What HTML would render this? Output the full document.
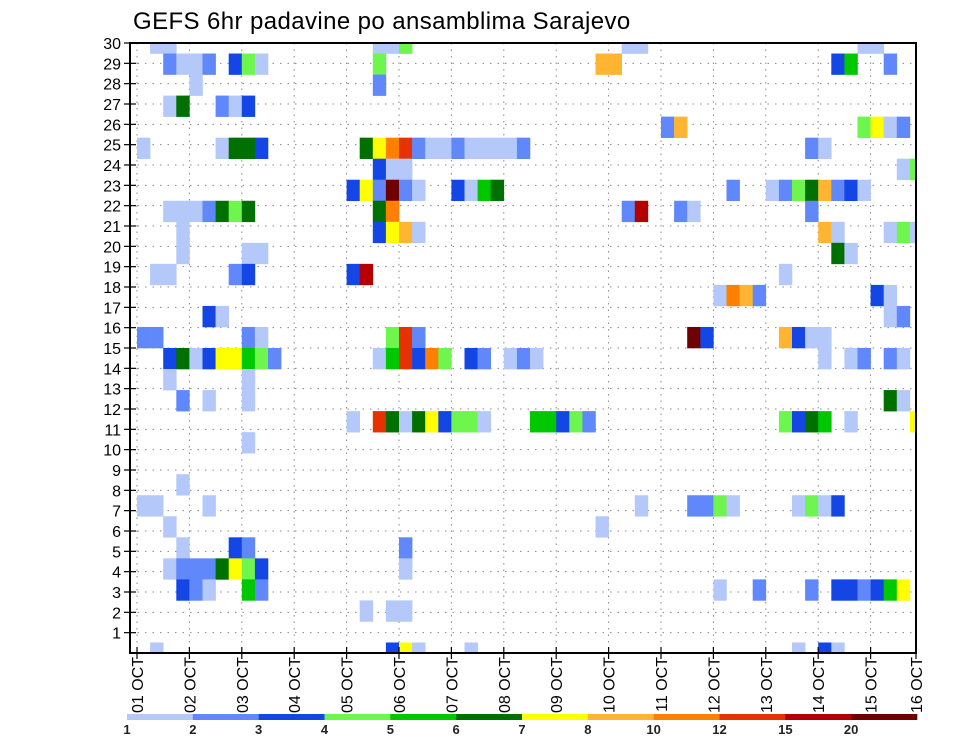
<!DOCTYPE html>
<html><head><meta charset="utf-8">
<style>
html,body{margin:0;padding:0;background:#fff;}
svg{display:block;font-family:"Liberation Sans",sans-serif;}
</style></head>
<body>
<svg id="chart" width="960" height="742" viewBox="0 0 960 742" xmlns="http://www.w3.org/2000/svg">
<text x="133" y="29" font-size="24" letter-spacing="0.4" fill="#000">GEFS 6hr padavine po ansamblima Sarajevo</text>
<g id="grid"></g>
<g id="cells" clip-path="url(#plotclip)"></g>
<g id="axes"></g>
<g id="legend"></g>
<defs><clipPath id="plotclip"><rect x="130" y="43" width="786" height="610"/></clipPath></defs>
</svg>
<script>
// ---- data ----
const dayLabels = ["01 OCT","02 OCT","03 OCT","04 OCT","05 OCT","06 OCT","07 OCT","08 OCT","09 OCT","10 OCT","11 OCT","12 OCT","13 OCT","14 OCT","15 OCT","16 OCT"];
const yTickLabels = [1,2,3,4,5,6,7,8,9,10,11,12,13,14,15,16,17,18,19,20,21,22,23,24,25,26,27,28,29,30];
const legendLevels = [1,2,3,4,5,6,7,8,10,12,15,20];
const legendColors = ["#b4c8fa","#6088fa","#1446e6","#6ef54e","#00c800","#007000","#ffff00","#ffb432","#ff8000","#e63200","#b40000","#6e0000"];
// cells: [member row, 6-hour step, precipitation mm]
const cellMember = [];
const cellStep = [];
const cellValue = [];
const precipCells = [
[29,1,1.5],[29,2,1.5],[29,18,1.5],[29,19,1.5],[29,20,4.5],[29,37,1.5],[29,38,1.5],[29,55,1.5],[29,56,1.5],
[28,2,2.5],[28,3,1.5],[28,4,1.5],[28,5,2.5],[28,7,3.5],[28,8,4.5],[28,9,1.5],[28,18,4.5],[28,35,9],[28,36,9],[28,53,3.5],[28,54,5.5],[28,57,2.5],
[27,4,1.5],[27,18,2.5],
[26,2,1.5],[26,3,6.5],[26,6,2.5],[26,7,1.5],[26,8,3.5],
[25,40,2.5],[25,41,9],[25,55,4.5],[25,56,7.5],[25,57,1.5],[25,58,2.5],
[24,0,1.5],[24,6,1.5],[24,7,6.5],[24,8,6.5],[24,9,3.5],[24,17,6.5],[24,18,7.5],[24,19,11],[24,20,13.5],[24,21,2.5],[24,22,1.5],[24,23,1.5],[24,24,2.5],[24,25,1.5],[24,26,1.5],[24,27,1.5],[24,28,1.5],[24,29,2.5],[24,51,2.5],[24,52,1.5],
[23,18,3.5],[23,19,1.5],[23,20,1.5],[23,58,1.5],[23,59,4.5],
[22,16,3.5],[22,17,7.5],[22,18,2.5],[22,19,25],[22,20,2.5],[22,21,1.5],[22,24,3.5],[22,25,1.5],[22,26,5.5],[22,27,6.5],[22,45,2.5],[22,48,1.5],[22,49,2.5],[22,50,4.5],[22,51,6.5],[22,52,9],[22,53,2.5],[22,54,3.5],[22,55,1.5],
[21,2,1.5],[21,3,1.5],[21,4,1.5],[21,5,2.5],[21,6,6.5],[21,7,4.5],[21,8,6.5],[21,18,6.5],[21,19,11],[21,37,2.5],[21,38,17.5],[21,41,2.5],[21,42,1.5],[21,51,2.5],
[20,3,1.5],[20,18,3.5],[20,19,7.5],[20,20,9],[20,21,1.5],[20,52,9],[20,53,1.5],[20,57,1.5],[20,58,4.5],[20,59,1.5],
[19,3,1.5],[19,8,1.5],[19,9,1.5],[19,53,6.5],[19,54,1.5],
[18,1,1.5],[18,2,1.5],[18,7,2.5],[18,8,3.5],[18,16,3.5],[18,17,17.5],[18,49,1.5],
[17,44,1.5],[17,45,11],[17,46,9],[17,47,2.5],[17,56,3.5],[17,57,1.5],
[16,5,3.5],[16,6,1.5],[16,57,1.5],[16,58,2.5],
[15,0,2.5],[15,1,2.5],[15,8,2.5],[15,9,1.5],[15,19,4.5],[15,20,13.5],[15,21,2.5],[15,42,25],[15,43,3.5],[15,49,9],[15,50,3.5],[15,51,1.5],[15,52,1.5],
[14,2,3.5],[14,3,6.5],[14,4,1.5],[14,5,3.5],[14,6,7.5],[14,7,7.5],[14,8,5.5],[14,9,4.5],[14,10,2.5],[14,18,1.5],[14,19,5.5],[14,20,13.5],[14,21,3.5],[14,22,11],[14,23,4.5],[14,25,3.5],[14,26,2.5],[14,28,1.5],[14,29,2.5],[14,30,1.5],[14,52,1.5],[14,54,1.5],[14,55,2.5],[14,57,2.5],[14,58,1.5],
[13,2,1.5],[13,8,1.5],
[12,3,2.5],[12,5,1.5],[12,8,1.5],[12,57,6.5],[12,58,1.5],
[11,16,1.5],[11,18,13.5],[11,19,6.5],[11,20,1.5],[11,21,6.5],[11,22,7.5],[11,23,3.5],[11,24,4.5],[11,25,4.5],[11,26,1.5],[11,30,5.5],[11,31,5.5],[11,32,3.5],[11,33,4.5],[11,34,2.5],[11,49,4.5],[11,50,3.5],[11,51,6.5],[11,52,5.5],[11,54,1.5],[11,59,7.5],
[10,8,1.5],
[8,3,1.5],
[7,0,1.5],[7,1,1.5],[7,5,1.5],[7,38,1.5],[7,42,2.5],[7,43,2.5],[7,44,4.5],[7,45,1.5],[7,50,1.5],[7,51,4.5],[7,52,1.5],[7,53,3.5],
[6,2,1.5],[6,35,1.5],
[5,3,1.5],[5,7,3.5],[5,8,2.5],[5,20,2.5],
[4,2,1.5],[4,3,2.5],[4,4,2.5],[4,5,2.5],[4,6,6.5],[4,7,7.5],[4,8,4.5],[4,9,3.5],[4,20,1.5],
[3,3,3.5],[3,4,2.5],[3,5,1.5],[3,8,5.5],[3,9,2.5],[3,44,1.5],[3,47,2.5],[3,51,2.5],[3,53,3.5],[3,54,3.5],[3,55,2.5],[3,56,3.5],[3,57,5.5],[3,58,7.5],
[2,17,1.5],[2,19,1.5],[2,20,1.5],
[0,1,1.5],[0,19,3.5],[0,20,7.5],[0,21,1.5],[0,25,1.5],[0,50,1.5],[0,52,3.5],[0,53,1.5]
];
precipCells.forEach(function(c){cellMember.push(c[0]);cellStep.push(c[1]);cellValue.push(c[2]);});

// ---- scales ----
const PL=130, PR=916, PT=43, PB=653;
const X0=137, STEP_W=13.1;
const ROW_H=(PB-PT)/29;
function xStep(k){return X0+STEP_W*k;}
function xDay(d){return Math.min(X0+STEP_W*4*d, PR);}
function yMember(j){return PB-ROW_H*j;}
function yTick(v){return PB-(PB-PT)/30*v;}
function colorFor(v){let i=0;for(let n=0;n<legendLevels.length;n++){if(v>=legendLevels[n])i=n;}return legendColors[i];}

const NS="http://www.w3.org/2000/svg";
function mk(tag,attrs,parent){const e=document.createElementNS(NS,tag);for(const a in attrs)e.setAttribute(a,attrs[a]);parent.appendChild(e);return e;}

const grid=document.getElementById('grid');
yTickLabels.forEach(function(v){
  if(v>=30)return;
  const l=mk('line',{x1:PL,x2:PR,y1:yTick(v),y2:yTick(v),stroke:'#888','stroke-width':1,'stroke-dasharray':'1.5 6'},grid);
  
  
});
dayLabels.forEach(function(t,d){
  const x=xDay(d); if(x>=PR)return;
  const l=mk('line',{x1:x,x2:x,y1:PT,y2:PB,stroke:'#888','stroke-width':1,'stroke-dasharray':'1.5 5'},grid);
  
  
});

const cells=document.getElementById('cells');
for(let i=0;i<cellValue.length;i++){
  const r=mk('rect',{x:xStep(cellStep[i]),y:yMember(cellMember[i])-ROW_H/2,width:STEP_W+0.3,height:ROW_H+0.3,fill:colorFor(cellValue[i])},cells);
  
  
}

const axes=document.getElementById('axes');
const frame=mk('rect',{x:PL,y:PT,width:PR-PL,height:PB-PT,fill:'none',stroke:'#000','stroke-width':2},axes);


yTickLabels.forEach(function(v){
  const y=yTick(v);
  const t=mk('line',{x1:124,x2:136,y1:y,y2:y,stroke:'#000','stroke-width':1.2},axes);
  
  
  const lb=mk('text',{x:121,y:y+6,'text-anchor':'end','font-size':16,fill:'#000'},axes);
  lb.textContent=v;
  
  
});
dayLabels.forEach(function(txt,d){
  const x=xDay(d);
  const t=mk('line',{x1:x,x2:x,y1:PB-6,y2:PB+6,stroke:'#000','stroke-width':1.2},axes);
  
  
  const lb=mk('text',{x:0,y:0,'text-anchor':'end','font-size':16,fill:'#000',transform:'translate('+(x+6)+','+(PB+4)+') rotate(-90)'},axes);
  lb.textContent=txt;
  
  
});

const leg=document.getElementById('legend');
const LX0=127, LX1=917, LW=(LX1-LX0)/legendColors.length;
legendColors.forEach(function(c,i){
  const r=mk('rect',{x:LX0+LW*i,y:714,width:LW+0.3,height:6,fill:c},leg);
  
  
  const t=mk('text',{x:LX0+LW*i,y:734,'text-anchor':'middle','font-size':13,'font-weight':'bold',fill:'#222'},leg);
  t.textContent=legendLevels[i];
  
  
});
</script>
</body></html>
